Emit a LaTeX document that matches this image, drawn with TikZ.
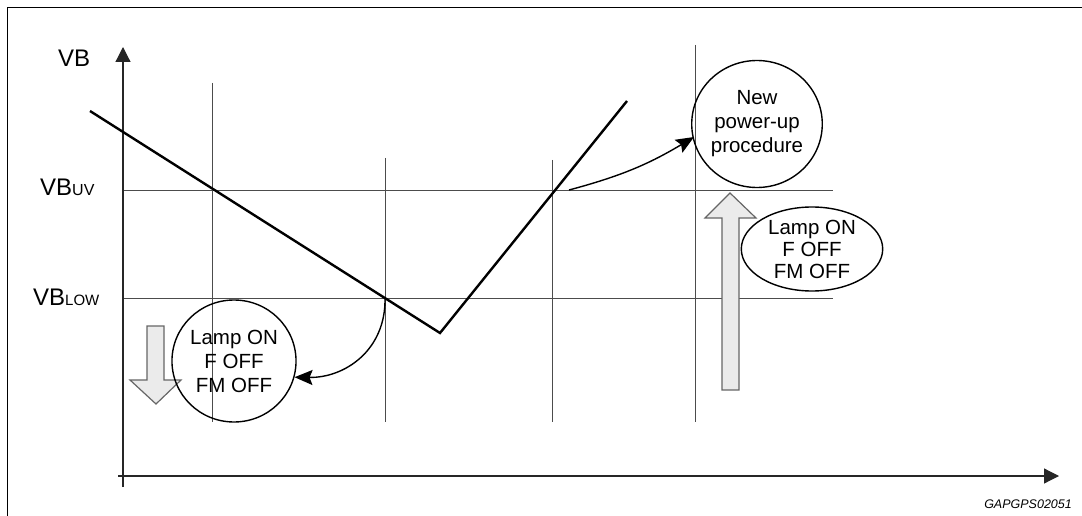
\documentclass[tikz,border=0pt]{standalone}
\usepackage{fontspec}
\setmainfont{Liberation Sans}
\usetikzlibrary{arrows.meta,shapes.geometric}
\begin{document}
\begin{tikzpicture}[x=1pt,y=-1pt,
  grid/.style={draw=black!70,line width=1pt},
  axis/.style={draw=black!85,line width=1.2pt,-{Triangle[length=15pt,width=15pt]}},
  bubble/.style={ellipse,draw=black,line width=1.4pt,inner sep=0pt,align=center,
    font=\fontsize{20.5}{24}\selectfont},
  bigarrow/.style={fill=black!8,draw=black!60,line width=1.2pt},
  conn/.style={draw=black,line width=1.4pt,-{Stealth[length=18pt,width=15pt,inset=3pt]}},
  lbl/.style={inner sep=0pt,anchor=base west,font=\fontsize{24}{24}\selectfont}
]
\useasboundingbox (0,0) rectangle (1082,516);
% frame
\draw[line width=1.8pt] (7.5,520) -- (7.5,7.5) -- (1090,7.5);

% grid lines
\draw[grid] (123,190) -- (833,190);
\draw[grid] (123,298) -- (833,298);
\draw[grid] (212,83) -- (212,422);
\draw[grid] (385,158) -- (385,422);
\draw[grid] (552,160) -- (552,422);
\draw[grid] (695,45) -- (695,422);

% axes
\coordinate (yb) at (123,487);
\coordinate (yt) at (123,47);
\coordinate (xl) at (118,476);
\coordinate (xr) at (1059,476);
\draw[axis] (yb) -- (yt);
\draw[axis] (xl) -- (xr);

% axis labels
\node[lbl] (vb) at (58,67) {VB};
\node[lbl] (vbuv) at (40,196) {VB{\fontsize{16}{16}\selectfont UV}};
\node[lbl] (vblow) at (33,305) {VB{\fontsize{15}{16}\selectfont LOW}};
\node[inner sep=0pt,anchor=base east,font=\fontsize{12.5}{13}\selectfont\itshape] (code) at (1072,508) {GAPGPS02051};

% battery voltage curve
\draw[line width=2.4pt,line join=miter] (90,111) -- (440,333) -- (627,101);

% gray arrows
\draw[bigarrow] (147,326) -- (164,326) -- (164,380) -- (181,380) -- (156,404) -- (130,380) -- (147,380) -- cycle;
\draw[bigarrow] (722,390) -- (739,390) -- (739,218) -- (756,218) -- (730,193) -- (705,218) -- (722,218) -- cycle;

% bubbles
\node[bubble,minimum width=108pt,minimum height=122pt] (lampL) at (234,361) {Lamp ON\\F OFF\\FM OFF};
\node[bubble,minimum width=120pt,minimum height=127pt] (newpu) at (757,124) {New\\power-up\\procedure};
\node[bubble,minimum width=109pt,minimum height=84pt,font=\fontsize{20.5}{22}\selectfont] (lampR) at (812,249) {\raisebox{5pt}{\parbox{100pt}{\centering Lamp ON\\F OFF\\FM OFF}}};

% connectors
\coordinate (xlow) at (385,298);
\coordinate (xuv) at (569,190);
\coordinate (tipNP) at (694,137);
\draw[conn] (xlow) .. controls (386,350) and (345,378) .. (lampL.-15);
\draw[conn] (xuv) to[bend right=8] (tipNP);
\end{tikzpicture}
\end{document}
